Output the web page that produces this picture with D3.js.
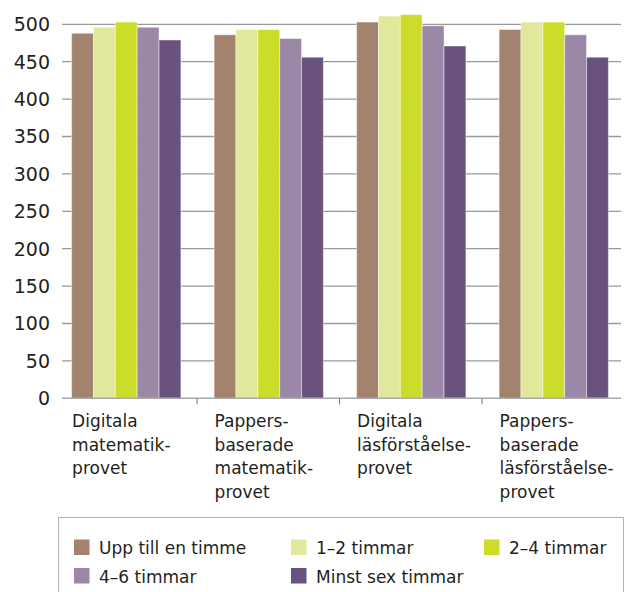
<!DOCTYPE html>
<html>
<head>
<meta charset="utf-8">
<script src="https://cdn.jsdelivr.net/npm/d3@7"></script>
<style>
  body { margin: 0; background: #fff; }
  svg { display: block; font-family: 'DejaVu Sans', 'Liberation Sans', Arial, sans-serif; }
</style>
</head>
<body>
<div id="chart"></div>
<script>
const categories = [
  ['Digitala', 'matematik-', 'provet'],
  ['Pappers-', 'baserade', 'matematik-', 'provet'],
  ['Digitala', 'läsförståelse-', 'provet'],
  ['Pappers-', 'baserade', 'läsförståelse-', 'provet']
];
const seriesNames = ['Upp till en timme', '1–2 timmar', '2–4 timmar', '4–6 timmar', 'Minst sex timmar'];
const seriesColors = ['#a3826e', '#e2e89b', '#cbdc2a', '#9b88a6', '#6a527f'];
const uppTillEnTimme = [488, 486, 503, 493];
const enTillTva = [496, 493, 511, 503];
const tvaTillFyra = [503, 493, 513, 503];
const fyraTillSex = [496, 481, 498, 486];
const minstSex = [479, 456, 471, 456];
const yTicks = [0, 50, 100, 150, 200, 250, 300, 350, 400, 450, 500];

const series = [uppTillEnTimme, enTillTva, tvaTillFyra, fyraTillSex, minstSex];

const width = 626;
const height = 592;

const svg = d3.select('#chart')
  .append('svg')
  .attr('width', width)
  .attr('height', height);

const x0 = d3.scaleBand()
  .domain(d3.range(categories.length))
  .range([55, 625]);

const x1 = d3.scaleBand()
  .domain(d3.range(seriesNames.length))
  .range([0, x0.bandwidth()])
  .paddingOuter(0.76);

const y = d3.scaleLinear()
  .domain([0, 500])
  .range([398.3, 24.3]);

// gridlines
svg.append('g')
  .selectAll('line')
  .data(yTicks.filter(d => d > 0))
  .join('line')
  .attr('x1', 62)
  .attr('x2', 621)
  .attr('y1', d => y(d))
  .attr('y2', d => y(d))
  .attr('stroke', '#9a9a9a')
  .attr('stroke-width', 1.3);

// y labels
svg.append('g')
  .selectAll('text')
  .data(yTicks)
  .join('text')
  .attr('x', 50)
  .attr('y', d => y(d))
  .attr('dy', '0.36em')
  .attr('text-anchor', 'end')
  .attr('font-size', 19)
  .attr('fill', '#231f20')
  .text(d => d);

// bars
const groups = svg.append('g')
  .selectAll('g')
  .data(categories.map((c, i) => i))
  .join('g')
  .attr('transform', d => `translate(${x0(d)},0)`);

groups.selectAll('rect')
  .data(ci => series.map((s, si) => ({ si, v: s[ci] })))
  .join('rect')
  .attr('x', d => x1(d.si))
  .attr('y', d => y(d.v))
  .attr('width', x1.bandwidth())
  .attr('height', d => y(0) - y(d.v))
  .attr('fill', d => seriesColors[d.si])
  .attr('stroke', 'rgba(255,255,255,0.45)')
  .attr('stroke-width', 1);

// x axis line and ticks
svg.append('line')
  .attr('x1', 62)
  .attr('x2', 621)
  .attr('y1', y(0))
  .attr('y2', y(0))
  .attr('stroke', '#a8a8a8')
  .attr('stroke-width', 1.5);

svg.append('g')
  .selectAll('line')
  .data(d3.range(1, categories.length))
  .join('line')
  .attr('x1', d => x0(d) - 0.5)
  .attr('x2', d => x0(d) - 0.5)
  .attr('y1', y(0))
  .attr('y2', y(0) + 6)
  .attr('stroke', '#777')
  .attr('stroke-width', 1);

// x labels
const xl = svg.append('g')
  .selectAll('text')
  .data(categories)
  .join('text')
  .attr('x', (d, i) => x0(i) + x1(0) + 0.5)
  .attr('y', 427)
  .attr('font-size', 17)
  .attr('fill', '#231f20');

xl.selectAll('tspan')
  .data(d => d)
  .join('tspan')
  .attr('x', function () { return d3.select(this.parentNode).attr('x'); })
  .attr('dy', (d, i) => (i === 0 ? 0 : 23.5))
  .text(d => d);

// legend
const legend = svg.append('g');
legend.append('rect')
  .attr('x', 58.5)
  .attr('y', 517.5)
  .attr('width', 565)
  .attr('height', 100)
  .attr('fill', 'none')
  .attr('stroke', '#b0b0b0')
  .attr('stroke-width', 1);

const legendPos = [[74, 539.5], [291, 539.5], [484, 539.5], [74, 568], [291, 568]];

const items = legend.selectAll('g.item')
  .data(seriesNames)
  .join('g')
  .attr('class', 'item')
  .attr('transform', (d, i) => `translate(${legendPos[i][0]},${legendPos[i][1]})`);

items.append('rect')
  .attr('width', 15.5)
  .attr('height', 15.5)
  .attr('fill', (d, i) => seriesColors[i]);

items.append('text')
  .attr('x', 25)
  .attr('y', 14.5)
  .attr('font-size', 17)
  .attr('fill', '#231f20')
  .text(d => d);
</script>
</body>
</html>
